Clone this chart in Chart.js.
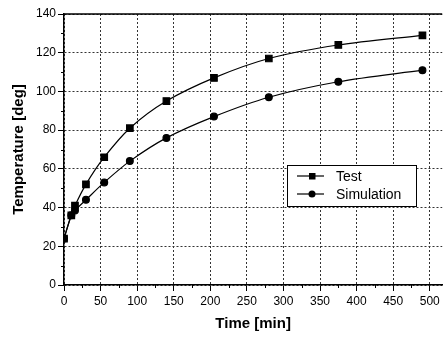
<!DOCTYPE html>
<html>
<head>
<meta charset="utf-8">
<script src="https://cdn.jsdelivr.net/npm/chart.js@4/dist/chart.umd.min.js"></script>
<style>
  html, body { margin: 0; padding: 0; background: #fff; }
  #wrap { width: 448px; height: 338px; }
</style>
</head>
<body>
<div id="wrap"><canvas id="c" width="448" height="338"></canvas></div>
<script>
// Measured heating curves: time in minutes, temperature in degrees
const timeTest = [0, 10, 15, 30, 55, 90, 140, 205, 280, 375, 490];
const tempTest = [24, 36, 41, 52, 66, 81, 95, 107, 117, 124, 129];
const timeSim  = [0, 10, 15, 30, 55, 90, 140, 205, 280, 375, 490];
const tempSim  = [24, 36, 38.5, 44, 53, 64, 76, 87, 97, 105, 111];

const seriesNames = ['Test', 'Simulation'];
const xTickValues = [0, 50, 100, 150, 200, 250, 300, 350, 400, 450, 500];
const yTickValues = [0, 20, 40, 60, 80, 100, 120, 140];

const toPoints = (xs, ys) => xs.map((x, i) => ({ x: x, y: ys[i] }));

// Frame top edge, minor ticks and the boxed legend
const decorations = {
  id: 'decorations',
  afterDraw(chart) {
    const { ctx, chartArea: a, scales: { x, y } } = chart;
    ctx.save();
    ctx.strokeStyle = '#000';
    ctx.lineWidth = 1.3;
    ctx.beginPath();
    ctx.moveTo(a.left, a.top);
    ctx.lineTo(a.right, a.top);
    ctx.stroke();

    ctx.lineWidth = 1;
    ctx.beginPath();
    for (let v = 10; v < 140; v += 20) {
      const py = Math.round(y.getPixelForValue(v)) + 0.5;
      ctx.moveTo(a.left - 3, py);
      ctx.lineTo(a.left, py);
    }
    for (let v = 25; v < 517; v += 50) {
      const px = Math.round(x.getPixelForValue(v)) + 0.5;
      ctx.moveTo(px, a.bottom);
      ctx.lineTo(px, a.bottom + 3);
    }
    ctx.stroke();

    // legend
    const bx = 287, by = 165, bw = 129, bh = 41;
    ctx.fillStyle = '#fff';
    ctx.fillRect(bx, by, bw, bh);
    ctx.strokeStyle = '#000';
    ctx.lineWidth = 1;
    ctx.strokeRect(bx + 0.5, by + 0.5, bw, bh);
    const rows = [176, 194];
    chart.data.datasets.forEach((ds, i) => {
      const cy = rows[i];
      ctx.strokeStyle = '#000';
      ctx.lineWidth = 1.2;
      ctx.beginPath();
      ctx.moveTo(297, cy);
      ctx.lineTo(324, cy);
      ctx.stroke();
      ctx.fillStyle = '#000';
      if (ds.pointStyle === 'rect') {
        ctx.fillRect(312 - 3, cy - 3, 6.5, 6.5);
      } else {
        ctx.beginPath();
        ctx.arc(312, cy, 3.5, 0, Math.PI * 2);
        ctx.fill();
      }
      ctx.font = '14px "Liberation Sans", Arial, sans-serif';
      ctx.textBaseline = 'middle';
      ctx.textAlign = 'left';
      ctx.fillText(ds.label, 336, cy + 1);
    });
    ctx.restore();
  }
};

new Chart(document.getElementById('c'), {
  type: 'line',
  data: {
    datasets: [
      {
        label: seriesNames[0],
        data: toPoints(timeTest, tempTest),
        borderColor: '#000',
        backgroundColor: '#000',
        borderWidth: 1.2,
        pointStyle: 'rect',
        pointRadius: 4.6,
        tension: 0.3
      },
      {
        label: seriesNames[1],
        data: toPoints(timeSim, tempSim),
        borderColor: '#000',
        backgroundColor: '#000',
        borderWidth: 1.2,
        pointStyle: 'circle',
        pointRadius: 3.4,
        tension: 0.3
      }
    ]
  },
  options: {
    responsive: false,
    animation: false,
    layout: { padding: { top: 14, right: 0, left: 0, bottom: 0 } },
    plugins: { legend: { display: false }, tooltip: { enabled: false } },
    scales: {
      x: {
        type: 'linear',
        min: 0,
        max: 517,
        afterFit(s) { s.height = 53; },
        afterBuildTicks(s) { s.ticks = xTickValues.map(v => ({ value: v })); },
        ticks: {
          includeBounds: false,
          color: '#000',
          padding: 3,
          maxRotation: 0,
          font: { family: '"Liberation Sans", Arial, sans-serif', size: 12 }
        },
        grid: { color: '#333', lineWidth: 1, tickLength: 6, tickColor: '#000', drawTicks: true },
        border: { color: '#000', width: 1.5, dash: [2, 2] },
        title: {
          display: true,
          text: 'Time [min]',
          color: '#000',
          padding: { top: 0, bottom: 5 },
          font: { family: '"Liberation Sans", Arial, sans-serif', size: 15, weight: 'bold' }
        }
      },
      y: {
        type: 'linear',
        min: 0,
        max: 140,
        afterFit(s) { s.width = 64; },
        afterBuildTicks(s) { s.ticks = yTickValues.map(v => ({ value: v })); },
        ticks: {
          color: '#000',
          padding: 2,
          font: { family: '"Liberation Sans", Arial, sans-serif', size: 12 }
        },
        grid: { color: '#333', lineWidth: 1, tickLength: 6, tickColor: '#000', drawTicks: true },
        border: { color: '#000', width: 1.5, dash: [2, 2] },
        title: {
          display: true,
          text: 'Temperature [deg]',
          color: '#000',
          padding: { top: 10, bottom: 0 },
          font: { family: '"Liberation Sans", Arial, sans-serif', size: 15, weight: 'bold' }
        }
      }
    }
  },
  plugins: [decorations]
});
</script>
</body>
</html>
